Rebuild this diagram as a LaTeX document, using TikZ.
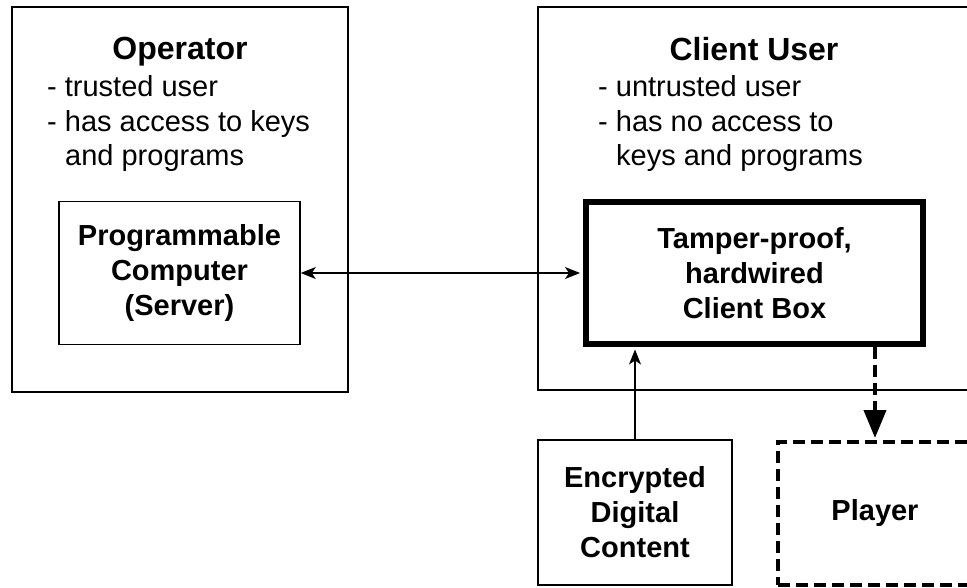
\documentclass[tikz,border=0pt]{standalone}
\usepackage{fontspec}
\setmainfont{Liberation Sans}
\usetikzlibrary{arrows.meta}
\begin{document}
\begin{tikzpicture}[x=1pt,y=-1pt,
  txt/.style={inner sep=0pt, anchor=base west, font=\fontsize{29}{35}\selectfont},
  heading/.style={inner sep=0pt, anchor=base, font=\fontsize{32}{38}\selectfont\bfseries},
  frame/.style={draw, rectangle, line width=1.5pt, inner sep=0pt},
  box/.style={frame, align=center, font=\fontsize{29}{35}\selectfont\bfseries},
  heavybox/.style={box, line width=6pt},
  dashbox/.style={box, line width=4pt, dash pattern=on 12pt off 6pt},
  link/.style={line width=1.5pt, {Stealth[length=15pt,width=12pt,inset=4pt]}-{Stealth[length=15pt,width=12pt,inset=4pt]}},
  feed/.style={line width=1.5pt, -{Stealth[length=15pt,width=12pt,inset=4pt]}},
  output/.style={line width=4pt, dash pattern=on 12pt off 6pt, -{Triangle[length=28pt,width=22pt]}}]
\useasboundingbox (0,0) rectangle (967,588);

% operator side
\node[frame, minimum width=336pt, minimum height=385pt] (opframe) at (180,199.5) {};
\node[heading] (optitle) at (180,60) {Operator};
\node[txt] (opline1) at (47,97) {- trusted user};
\node[txt] (opline2) at (47,132) {- has access to keys};
\node[txt] (opline3) at (65,166) {and programs};
\node[box, minimum width=241pt, minimum height=143pt] (server) at (179.5,273)
  {Programmable\\Computer\\(Server)};

% client side
\node[frame, minimum width=442pt, minimum height=383pt] (clframe) at (759,198.5) {};
\node[heading] (cltitle) at (754,61) {Client User};
\node[txt] (clline1) at (598,97) {- untrusted user};
\node[txt] (clline2) at (598,132) {- has no access to};
\node[txt] (clline3) at (616,166) {keys and programs};
\node[heavybox, minimum width=337pt, minimum height=141pt] (client) at (754.5,273)
  {Tamper-proof,\\hardwired\\Client Box};

% content source and player
\node[box, minimum width=194pt, minimum height=145pt] (content) at (635,512.5)
  {Encrypted\\Digital\\Content};
\node[dashbox, minimum width=194pt, minimum height=143pt] (player) at (875,513.5)
  {Player};

% connectors
\draw[link, shorten >=3pt] (server.east) -- (client.west);
\draw[feed, shorten >=3pt] (content.north) -- (content.north |- client.south);
\draw[output, shorten >=2pt] (client.south -| player.north) -- (player.north);
\end{tikzpicture}
\end{document}
